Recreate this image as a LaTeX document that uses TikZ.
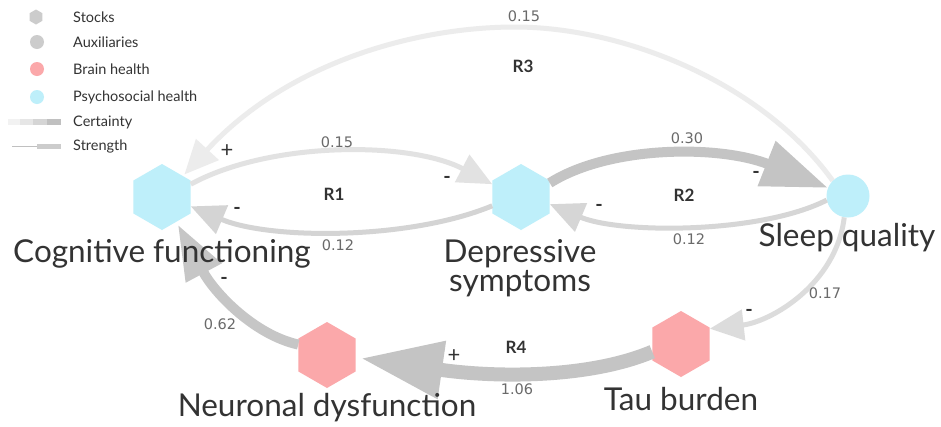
\documentclass[tikz,border=0pt]{standalone}
\usepackage{fontspec}
\setmainfont{Lato}
\newfontfamily\numfont{DejaVu Sans}
\usetikzlibrary{arrows.meta,shapes.geometric}
\definecolor{cyanfill}{HTML}{BEEFFA}
\definecolor{pinkfill}{HTML}{FBA8AA}
\definecolor{txt}{HTML}{333333}
\definecolor{numc}{HTML}{6A6A6A}
\definecolor{legg}{HTML}{CCCCCC}
\definecolor{certa}{HTML}{F2F2F2}
\definecolor{certb}{HTML}{E6E6E6}
\definecolor{certc}{HTML}{D5D5D5}
\definecolor{certd}{HTML}{C0C0C0}
\definecolor{ethree}{HTML}{ECECEC}
\definecolor{eonea}{HTML}{E2E2E2}
\definecolor{eoneb}{HTML}{D4D4D4}
\definecolor{etwoa}{HTML}{C4C4C4}
\definecolor{etwob}{HTML}{D6D6D6}
\definecolor{est}{HTML}{DCDCDC}
\definecolor{etn}{HTML}{C4C4C4}
\definecolor{enc}{HTML}{C6C6C6}
\begin{document}
\begin{tikzpicture}[x=1pt,y=-1pt,
  hexc/.style={regular polygon, regular polygon sides=6, shape border rotate=30, minimum size=66pt, inner sep=0pt, fill=cyanfill, draw=none},
  hexp/.style={hexc, fill=pinkfill},
  big/.style={text=txt, font=\fontsize{31.5}{36}\selectfont, inner sep=0pt, anchor=base},
  num/.style={text=numc, font=\numfont\fontsize{14.5}{16}\selectfont, inner sep=0pt},
  loopl/.style={text=txt, font=\bfseries\fontsize{17}{19}\selectfont, inner sep=0pt},
  sgn/.style={text=txt, font=\bfseries\fontsize{20}{22}\selectfont, inner sep=0pt},
  plussgn/.style={text=txt, font=\fontsize{22}{24}\selectfont, inner sep=0pt},
  legt/.style={text=txt, font=\fontsize{14.5}{16}\selectfont, anchor=west, inner sep=0pt},
  thin/.style={line width=5pt, -{Triangle[length=34pt,width=30pt]}},
]
\useasboundingbox (0,0) rectangle (941,426);
\fill[white] (0,0) rectangle (941,426);

% legend
\node[regular polygon, regular polygon sides=6, shape border rotate=30, minimum size=15pt, inner sep=0pt, fill=legg] (lgs) at (36,17) {};
\node[circle, fill=legg, minimum size=14pt, inner sep=0pt] (lga) at (37,42) {};
\node[circle, fill=pinkfill, minimum size=14pt, inner sep=0pt] (lgb) at (37,69) {};
\node[circle, fill=cyanfill, minimum size=14pt, inner sep=0pt] (lgp) at (37,97) {};
\fill[certa] (8,119) rectangle (20,125);
\fill[certb] (20,119) rectangle (33,125);
\fill[certc] (33,119) rectangle (47,125);
\fill[certd] (47,119) rectangle (61,125);
\draw[certd, line width=0.8pt] (12,146) -- (37,146);
\fill[legg] (37,143.5) rectangle (61,148.5);
\node[legt] (t1) at (73,17) {Stocks};
\node[legt] (t2) at (73,42) {Auxiliaries};
\node[legt] (t3) at (73,69) {Brain health};
\node[legt] (t4) at (73,97) {Psychosocial health};
\node[legt] (t5) at (73,122) {Certainty};
\node[legt] (t6) at (73,146) {Strength};

% nodes
\node[hexc] (cog) at (162,197) {};
\node[hexc] (dep) at (521,197) {};
\node[circle, fill=cyanfill, minimum size=43pt, inner sep=0pt] (slp) at (848,196) {};
\node[hexp] (tau) at (681,344) {};
\node[hexp] (neu) at (327,355) {};
\coordinate (r3top) at (515,27);

% edges
\draw[thin, ethree, shorten >=2pt] (slp.135) .. controls (760,80) and (620,27) .. (r3top) .. controls (420,27) and (290,60) .. (cog.45);
\draw[thin, eonea] (cog.24) .. controls (270,141) and (410,141) .. (dep.156);
\draw[thin, eoneb] (dep.197) .. controls (410,240) and (270,240) .. (cog.-18);
\draw[line width=10pt, etwoa, -{Triangle[length=66pt,width=46pt]}] (dep.26) .. controls (610,145) and (720,145) .. (slp.158);
\draw[thin, etwob] (slp.191) .. controls (760,234) and (620,234) .. (dep.-14);
\draw[thin, est] (slp.-100) .. controls (836,285) and (770,322) .. (tau.28);
\draw[line width=14pt, etn, -{Triangle[length=82pt,width=55pt]}, shorten >=5pt] (tau.195) .. controls (590,378) and (497,378) .. (neu.-5);
\draw[line width=10pt, enc, -{Triangle[length=55pt,width=38pt]}, shorten >=3pt] (neu.160) .. controls (255,335) and (215,294) .. (cog.-60);

% labels
\node[big] (lcog) at (162,262) {Cognitive functioning};
\node[big] (ldep1) at (520,262) {Depressive};
\node[big] (ldep2) at (520,291) {symptoms};
\node[big] (lslp) at (847,246) {Sleep quality};
\node[big] (ltau) at (681,410) {Tau burden};
\node[big] (lneu) at (327,416) {Neuronal dysfunction};

\node[num] (n1) at (524,16) {0.15};
\node[loopl] (r3) at (523,66) {R3};
\node[plussgn] (s1) at (227,151) {+};
\node[num] (n2) at (337,142) {0.15};
\node[sgn] (s2) at (447,180) {-};
\node[loopl] (r1) at (334,194) {R1};
\node[sgn] (s3) at (237,211) {-};
\node[num] (n3) at (338,245) {0.12};
\node[num] (n4) at (687,138) {0.30};
\node[sgn] (s4) at (756,175) {-};
\node[loopl] (r2) at (684,195) {R2};
\node[sgn] (s5) at (599,208) {-};
\node[num] (n5) at (689,239) {0.12};
\node[num] (n6) at (825,293) {0.17};
\node[sgn] (s6) at (749,313) {-};
\node[sgn] (s7) at (224,281) {-};
\node[num] (n7) at (220,324) {0.62};
\node[plussgn] (s8) at (454,356) {+};
\node[loopl] (r4) at (516,347) {R4};
\node[num] (n8) at (517,389) {1.06};
\end{tikzpicture}
\end{document}
